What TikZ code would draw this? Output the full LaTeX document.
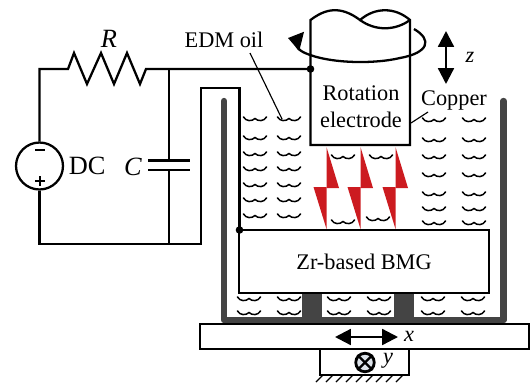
\documentclass[tikz,border=0pt]{standalone}
\usepackage{fontspec}
\setmainfont{Liberation Serif}
\usepackage{xcolor}
\usetikzlibrary{arrows.meta}
\usetikzlibrary{positioning}

\definecolor{wallgrey}{HTML}{444444}
\definecolor{boltred}{HTML}{CC1B20}
\definecolor{knobfill}{HTML}{DDE3EA}

\tikzset{
    wire/.style={line width=1.3pt, line join=miter},
    thinwire/.style={line width=0.65pt},
    wall/.style={line width=3.6pt, color=wallgrey},
    box/.style={draw, line width=1.3pt, inner sep=0pt, outer sep=0pt},
    txt/.style={font=\fontsize{12.7}{14}\selectfont, inner sep=0pt},
    bigtxt/.style={font=\fontsize{15}{16}\selectfont, inner sep=0pt},
    axis/.style={line width=1.3pt, {Triangle[length=9pt,width=9pt]}-{Triangle[length=9pt,width=9pt]}},
    oilwave/.pic={\draw[line width=0.85pt, line cap=round] (-11.5,-2) .. controls (-9,2.5) and (-3,2.5) .. (0,-0.5) .. controls (3,2.5) and (9,2.5) .. (11.5,-2);}
}

\begin{document}
\begin{tikzpicture}[x=0.02cm, y=-0.02cm]
    \useasboundingbox (0, 0) rectangle (530, 386);

    \coordinate (tl) at (39.5, 69);
    \coordinate (r0) at (68, 69);
    \coordinate (r1) at (146, 69);
    \coordinate (ctop) at (169, 69);
    \coordinate (cu) at (169, 160.5);
    \coordinate (cd) at (169, 170);
    \coordinate (cbot) at (169, 244);
    \coordinate (bl) at (39.5, 244);
    \coordinate (lb) at (201, 244);
    \coordinate (lt) at (201, 88);
    \coordinate (rt) at (239.5, 88);
    \coordinate (hit) at (239.5, 230);
    \coordinate (etop) at (310.5, 69);

    \node[circle, draw, line width=1.3pt, minimum size=0.94cm, inner sep=0pt] (dc) at (39.5, 166) {};
    \node[bigtxt, right=2.5pt of dc] (dclabel) {DC};
    \node[bigtxt, font=\fontsize{15}{16}\selectfont\itshape] (rlabel) at (109, 39) {R};
    \node[bigtxt, font=\fontsize{15}{16}\selectfont\itshape] (clabel) at (133, 167) {C};

    \draw[line width=1.6pt] (35, 150) -- (45, 150);
    \draw[line width=1.6pt] (35, 181) -- (45, 181);
    \draw[line width=1.6pt] (40, 176) -- (40, 186);

    \draw[wire] (dc.north) -- (tl) -- (r0) -- (74, 53) -- (87, 84) -- (101, 53) -- (114, 84) -- (127, 53) -- (140, 84) -- (r1) -- (ctop) -- (etop);
    \draw[wire] (dc.south) -- (bl) -- (cbot) -- (lb) -- (lt) -- (rt) -- (hit);
    \draw[wire] (ctop) -- (cu);
    \draw[wire] (cd) -- (cbot);
    \draw[line width=1.6pt] (148, 160.5) -- (190, 160.5);
    \draw[line width=1.6pt] (148, 170) -- (190, 170);

    \fill[wallgrey] (302, 293) rectangle (322, 318);
    \fill[wallgrey] (394, 293) rectangle (414, 318);
    \draw[wall, line cap=round] (224, 101) -- (224, 320);
    \draw[wall, line cap=round] (503.5, 101) -- (503.5, 320);
    \draw[wall] (224, 320) -- (503.5, 320);

    \foreach \px in {255, 289}
        \foreach \py in {119, 138, 154, 169, 185, 200, 216}
            \pic at (\px, \py) {oilwave};
    \foreach \px in {434, 474}
        \foreach \py in {120, 140, 157, 175, 194, 209, 223}
            \pic at (\px, \py) {oilwave};
    \foreach \px/\py in {343/157, 381/157, 343/222, 378/219}
        \pic at (\px, \py) {oilwave};
    \foreach \px in {249, 289, 339, 379, 433, 473}
        \foreach \py in {299, 313}
            \pic at (\px, \py) {oilwave};

    \foreach \bx in {326.5, 360.5, 395.5} {
        \fill[boltred] (\bx, 147) -- (\bx + 12.5, 188) -- (\bx, 188) -- cycle;
        \fill[boltred] (\bx - 13, 187) -- (\bx, 187) -- (\bx, 229) -- cycle;
    }

    \node[box, minimum width=5cm, minimum height=1.26cm, txt] (bmg) at (364, 261.5) {Zr-based BMG};
    \node[box, minimum width=6.58cm, minimum height=0.5cm] (stage) at (364.5, 336.5) {};
    \node[box, minimum width=1.78cm, minimum height=0.52cm] (base) at (364.5, 362) {};

    \foreach \hx in {316, 326, 336, 346, 356, 366, 376, 386, 396}
        \draw[thinwire] (\hx, 382) -- (\hx + 7, 375);

    \draw[wire, fill=white] (310.5, 145) -- (310.5, 20) .. controls (325, 9) and (340, 5) .. (360, 20) .. controls (375, 7) and (395, 7) .. (410, 20) -- (410, 145) -- cycle;
    \draw[wire] (360, 20) .. controls (375, 31) and (395, 31) .. (410, 20);
    \node[txt, align=center] (electrode) at (361, 106.5) {Rotation\\[1.3pt]electrode};

    \draw[wire, -{Triangle[length=8pt,width=11pt]}] (414, 29) .. controls (433, 40) and (428, 53) .. (400, 58) .. controls (375, 64) and (330, 64) .. (305, 53) .. controls (292, 47) and (296, 40) .. (288, 38);

    \fill (etop) circle (3.8);
    \fill (hit) circle (3.8);

    \coordinate (ztop) at (446, 31);
    \coordinate (zbot) at (446, 84);
    \draw[axis] (ztop) -- (zbot);
    \node[txt, font=\fontsize{12.7}{14}\selectfont\itshape] (zlabel) at (470, 57) {z};

    \coordinate (xl) at (335, 337);
    \coordinate (xr) at (398, 337);
    \draw[axis] (xl) -- (xr);
    \node[txt, font=\fontsize{12.7}{14}\selectfont\itshape] (xlabel) at (409, 336) {x};

    \node[circle, draw, line width=1.6pt, fill=knobfill, minimum size=0.37cm, inner sep=0pt] (ycross) at (365, 362.5) {};
    \draw[line width=1.3pt] (ycross.45) -- (ycross.225);
    \draw[line width=1.3pt] (ycross.135) -- (ycross.315);
    \node[txt, font=\fontsize{12.7}{14}\selectfont\itshape] (ylabel) at (388, 361) {y};

    \node[txt] (oillabel) at (224, 40) {EDM oil};
    \coordinate (oilend) at (282, 119);
    \draw[thinwire] (250, 53) -- (oilend);

    \node[txt] (copper) at (454, 100) {Copper};
    \coordinate (copperend) at (411, 123);
    \draw[thinwire] (428, 112) -- (copperend);
\end{tikzpicture}
\end{document}
